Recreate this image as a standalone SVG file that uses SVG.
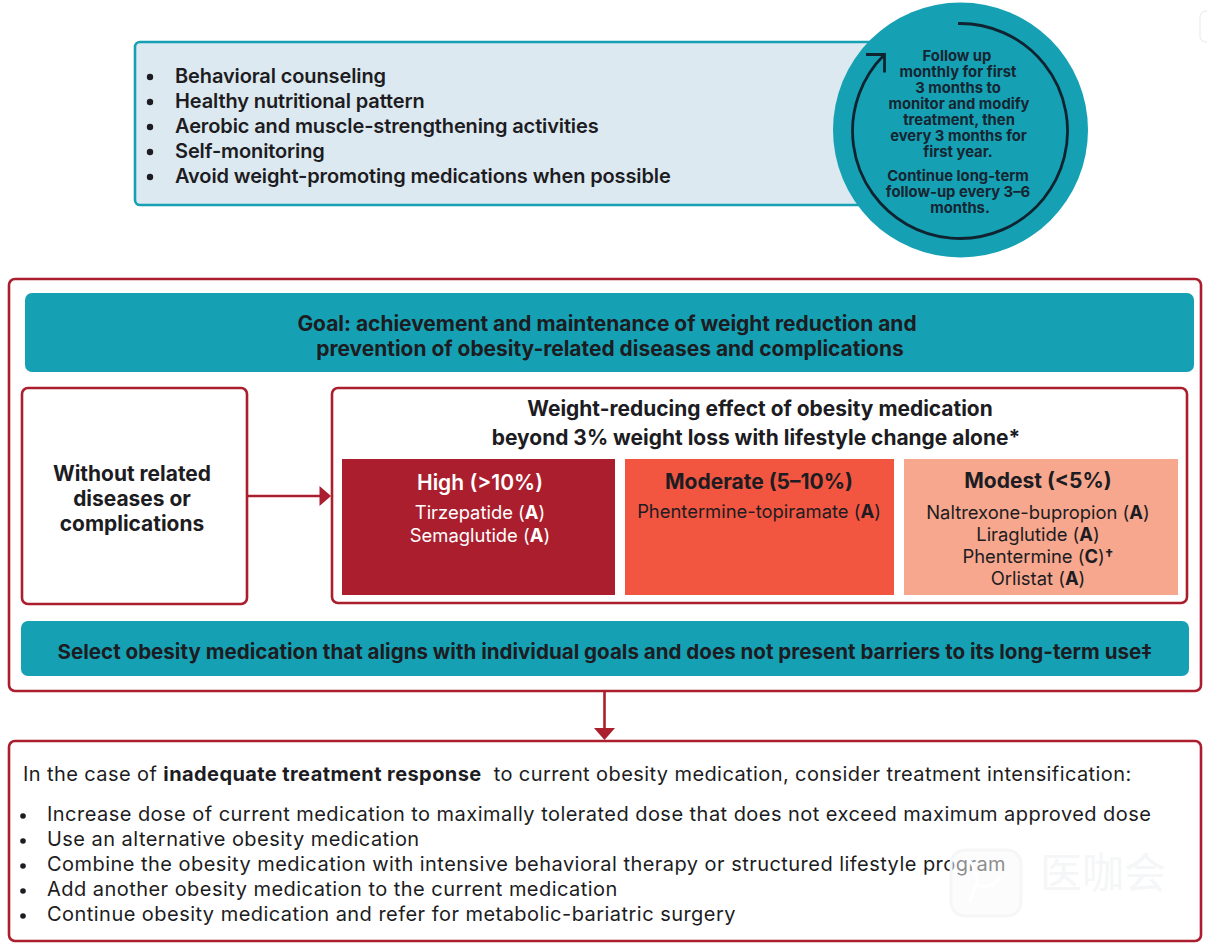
<svg xmlns="http://www.w3.org/2000/svg" width="1207" height="948" viewBox="0 0 1207 948">
<style>
text{font-family:Inter,"Liberation Sans",sans-serif;fill:#1c1c22}
.b{font-weight:700}
.c{text-anchor:middle}
.red{fill:#fff;stroke:#ab1e2e;stroke-width:2.6}
.teal{fill:#15a1b3}
.l1{font-size:20px;font-weight:600;letter-spacing:-.12px}
.h{font-size:21px;font-weight:700}
.m{font-size:18.4px}
.f{font-size:14.8px;font-weight:700;fill:#152532}
.lst{font-size:20px;letter-spacing:.46px}
.g{font-size:20.95px;font-weight:700}
.s{font-size:20.57px;font-weight:700}
</style>
<rect width="1207" height="948" fill="#fff"/>
<rect x="1200" y="11" width="20" height="31" rx="6" fill="#fff" stroke="#eef0f2" stroke-width="1.5"/>
<g id="lifestyle">
<rect x="135" y="42" width="760" height="163" rx="5" fill="#dce9f0" stroke="#15a1b3" stroke-width="2.6"/>
<circle cx="150" cy="77" r="3.2" fill="#1c1c22"/><circle cx="150" cy="102" r="3.2" fill="#1c1c22"/><circle cx="150" cy="127" r="3.2" fill="#1c1c22"/><circle cx="150" cy="152" r="3.2" fill="#1c1c22"/><circle cx="150" cy="177" r="3.2" fill="#1c1c22"/>
<text x="175" y="83" class="l1">Behavioral counseling</text>
<text x="175" y="108" class="l1">Healthy nutritional pattern</text>
<text x="175" y="133" class="l1">Aerobic and muscle-strengthening activities</text>
<text x="175" y="158" class="l1">Self-monitoring</text>
<text x="175" y="183" class="l1">Avoid weight-promoting medications when possible</text>
</g>
<g id="followup">
<circle cx="960.5" cy="130" r="127.500" class="teal"/>
<path d="M958 23.500A107.500 107.500 0 1 1 884 55M866 54.500H884.500V72.500" fill="none" stroke="#0f2430" stroke-width="2.800"/>
<text x="957" y="61" class="f c">Follow up</text>
<text x="958" y="77" class="f c">monthly for first</text>
<text x="958" y="93" class="f c">3 months to</text>
<text x="959" y="109" class="f c">monitor and modify</text>
<text x="959" y="125" class="f c">treatment, then</text>
<text x="958.500" y="141" class="f c">every 3 months for</text>
<text x="958" y="157" class="f c">first year.</text>
<text x="958" y="181" class="f c">Continue long-term</text>
<text x="958" y="197" class="f c">follow-up every 3–6</text>
<text x="960" y="213" class="f c">months.</text>
</g>
<g id="panel">
<rect x="9" y="279" width="1192" height="412" rx="6" class="red"/>
</g>
<g id="goal">
<rect x="25" y="293" width="1169" height="79" rx="7" class="teal"/>
<text x="607" y="330.500" class="g c">Goal: achievement and maintenance of weight reduction and</text>
<text x="610" y="355.500" class="g c">prevention of obesity-related diseases and complications</text>
</g>
<g id="without">
<rect x="22" y="388" width="225" height="216" rx="6" class="red"/>
<text x="132" y="481" class="g c">Without related</text>
<text x="132" y="506" class="g c">diseases or</text>
<text x="132" y="531" class="g c">complications</text>
</g>
<g id="effect">
<rect x="332" y="388" width="855" height="215" rx="6" class="red"/>
<text x="760" y="416" class="g c">Weight-reducing effect of obesity medication</text>
<text x="756" y="445" class="g c">beyond 3% weight loss with lifestyle change alone*</text>
</g>
<g id="high">
<rect x="342" y="459" width="273" height="136" fill="#ab1e2e"/>
<text x="480" y="490" class="h c" style="fill:#fff;font-weight:600">High (&gt;10%)</text>
<text x="480" y="519" class="m c" style="fill:#fff">Tirzepatide (<tspan class="b" style="fill:#fff">A</tspan>)</text>
<text x="480" y="541.500" class="m c" style="fill:#fff">Semaglutide (<tspan class="b" style="fill:#fff">A</tspan>)</text>
</g>
<g id="moderate">
<rect x="625" y="459" width="269" height="136" fill="#f25640"/>
<text x="759" y="489" class="h c">Moderate (5–10%)</text>
<text x="759" y="518" class="m c">Phentermine-topiramate (<tspan class="b">A</tspan>)</text>
</g>
<g id="modest">
<rect x="904" y="459" width="274" height="136" fill="#f7a78d"/>
<text x="1038" y="488" class="h c">Modest (&lt;5%)</text>
<text x="1038" y="519" class="m c">Naltrexone-bupropion (<tspan class="b">A</tspan>)</text>
<text x="1038" y="541" class="m c">Liraglutide (<tspan class="b">A</tspan>)</text>
<text x="1038" y="563" class="m c">Phentermine (<tspan class="b">C</tspan>)<tspan class="b" font-size="15" dy="-3">†</tspan></text>
<text x="1038" y="585" class="m c">Orlistat (<tspan class="b">A</tspan>)</text>
</g>
<g id="select">
<rect x="21" y="621" width="1168" height="55" rx="7" class="teal"/>
<text x="605" y="659" class="s c">Select obesity medication that aligns with individual goals and does not present barriers to its long-term use‡</text>
</g>
<g id="connectors">
<path d="M248 496H320" stroke="#ab1e2e" stroke-width="2.600" fill="none"/>
<path d="M319.500 486L331 496L319.500 506Z" fill="#ab1e2e"/>
<path d="M604.500 692V730" stroke="#ab1e2e" stroke-width="2.600" fill="none"/>
<path d="M594 728H615L604.500 740Z" fill="#ab1e2e"/>
</g>
<g id="response">
<rect x="9" y="741" width="1192" height="200" rx="6" class="red"/>
<text x="23" y="781" class="lst" style="letter-spacing:.41px" xml:space="preserve">In the case of <tspan class="b">inadequate treatment response</tspan>  to current obesity medication, consider treatment intensification:</text>
<circle cx="23" cy="816" r="2.800" fill="#1c1c22"/><circle cx="23" cy="841" r="2.800" fill="#1c1c22"/><circle cx="23" cy="866" r="2.800" fill="#1c1c22"/><circle cx="23" cy="891" r="2.800" fill="#1c1c22"/><circle cx="23" cy="916" r="2.800" fill="#1c1c22"/>
<text x="47" y="821" class="lst">Increase dose of current medication to maximally tolerated dose that does not exceed maximum approved dose</text>
<text x="47" y="846" class="lst">Use an alternative obesity medication</text>
<text x="47" y="871" class="lst">Combine the obesity medication with intensive behavioral therapy or structured lifestyle program</text>
<text x="47" y="896" class="lst">Add another obesity medication to the current medication</text>
<text x="47" y="921" class="lst">Continue obesity medication and refer for metabolic-bariatric surgery</text>
</g>
<g id="watermark">
<rect x="951" y="850" width="70" height="66" rx="14" fill="#fafafb" fill-opacity="0.5" stroke="#f5f6f7" stroke-width="3"/>
<path d="M968 858C975 868 978 875 977 884M1001 878C991 888 981 888 977 884C973 890 972 895 970 902" fill="none" stroke="#fff" stroke-width="3"/>
<text x="1103" y="888" class="c" style="font-family:'Noto Sans CJK SC',sans-serif;fill:#f5f6f7;font-size:42px">医咖会</text>
</g>
</svg>
